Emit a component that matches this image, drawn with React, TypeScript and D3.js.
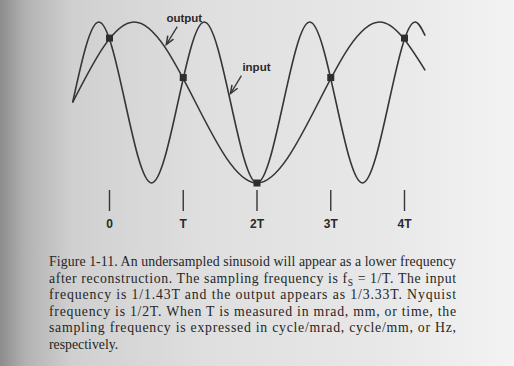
import React from "react";
import * as d3 from "d3";

// Sample instants (in units of T) and the sampled value (shared by both curves)
const sampleT = [0, 1, 2, 3, 4];
const sampleV = [0.8, 0.31, -1, 0.31, 0.8];
const tickLabels = ["0", "T", "2T", "3T", "4T"];

// Input sinusoid (period 1.43T): key points (t, value)
const inputT = [-0.5, -0.145, 0.57, 1.285, 2.0, 2.715, 3.43, 4.145, 4.28];
const inputV = [0, 1, -1, 1, -1, 1, -1, 1, 0.83];

// Output (alias) sinusoid (period 3.33T)
const outputT = [-0.5, 0.335, 2.0, 3.665, 4.28];
const outputV = [0, 1, -1, 1, 0.4];

// Annotations: label, t of arrow tip, value of tip, label offset
const annLabels = ["output", "input"];
const annTipT = [0.77, 1.64];
const annTipV = [0.72, 0.11];
const annDx = [7, 15];

const captionLines = [
  "Figure 1-11. An undersampled sinusoid will appear as a lower frequency",
  "after reconstruction. The sampling frequency is f|S| = 1/T. The input",
  "frequency is 1/1.43T and the output appears as 1/3.33T. Nyquist",
  "frequency is 1/2T. When T is measured in mrad, mm, or time, the",
  "sampling frequency is expressed in cycle/mrad, cycle/mm, or Hz,",
  "respectively.",
];

const W = 514;
const H = 366;

export default function App() {
  const x = d3.scaleLinear().domain([0, 4]).range([109.5, 404.5]);
  const y = d3.scaleLinear().domain([-1, 1]).range([183, 22]);
  const line = d3
    .line<[number, number]>()
    .x((d) => x(d[0]))
    .y((d) => y(d[1]))
    .curve(d3.curveMonotoneX);
  const inputPts = inputT.map((t, i) => [t, inputV[i]] as [number, number]);
  const outputPts = outputT.map((t, i) => [t, outputV[i]] as [number, number]);
  const ink = "#363636";
  const sq = 7;

  const arrow = (i: number) => {
    const tx = x(annTipT[i]);
    const ty = y(annTipV[i]);
    const sx = tx + 11;
    const sy = ty - 18;
    const ang = Math.atan2(ty - sy, tx - sx);
    const hl = 9;
    const a1 = ang + Math.PI - 0.38;
    const a2 = ang + Math.PI + 0.38;
    const p1 = [tx + hl * Math.cos(a1), ty + hl * Math.sin(a1)];
    const p2 = [tx + hl * Math.cos(a2), ty + hl * Math.sin(a2)];
    return (
      <g key={"a" + i}>
        <line x1={sx} y1={sy} x2={tx} y2={ty} stroke={ink} strokeWidth={1.3} />
        <path
          d={`M${p1[0]},${p1[1]} L${tx},${ty} L${p2[0]},${p2[1]}`}
          fill="none"
          stroke={ink}
          strokeWidth={1.5}
        />
        <text
          x={sx + annDx[i]}
          y={sy - 4.5}
          textAnchor="middle"
          fontFamily="Liberation Sans, Arial, sans-serif"
          fontWeight="bold"
          fontSize={11.5}
          fill="#2a2a2a"
        >
          {annLabels[i]}
        </text>
      </g>
    );
  };

  return (
    <svg
      width={W}
      height={H}
      style={{ position: "absolute", left: 0, top: 0, display: "block" }}
    >
      <defs>
        <linearGradient id="paper" x1="0" x2="1" y1="0" y2="0">
          <stop offset="0" stopColor="#8c8c8c" />
          <stop offset="0.05" stopColor="#b2b2b2" />
          <stop offset="0.14" stopColor="#d0d0d0" />
          <stop offset="0.4" stopColor="#dfdfdf" />
          <stop offset="0.75" stopColor="#e8e8e8" />
          <stop offset="1" stopColor="#f3f3f3" />
        </linearGradient>
      </defs>
      <rect width={W} height={H} fill="url(#paper)" />

      <path d={line(outputPts) || ""} fill="none" stroke={ink} strokeWidth={1.6} />
      <path d={line(inputPts) || ""} fill="none" stroke={ink} strokeWidth={1.6} />

      {sampleT.map((t, i) => (
        <rect
          key={"s" + i}
          x={x(t) - sq / 2}
          y={y(sampleV[i]) - sq / 2}
          width={sq}
          height={sq}
          fill="#2e2e2e"
        />
      ))}

      {sampleT.map((t, i) => (
        <g key={"t" + i}>
          <line x1={x(t)} x2={x(t)} y1={190} y2={211} stroke={ink} strokeWidth={1.4} />
          <text
            x={x(t)}
            y={228}
            textAnchor="middle"
            fontFamily="Liberation Sans, Arial, sans-serif"
            fontWeight="bold"
            fontSize={12}
            fill="#2a2a2a"
          >
            {tickLabels[i]}
          </text>
        </g>
      ))}

      {annLabels.map((_, i) => arrow(i))}

      {captionLines.map((ln, i) => {
        const parts = ln.split("|");
        const justify = i < captionLines.length - 1;
        return (
          <text
            key={"c" + i}
            x={49}
            y={266 + i * 16.6}
            fontFamily="Liberation Serif, Times New Roman, serif"
            fontSize={13.8}
            fill="#262626"
            textLength={justify ? 407 : undefined}
            lengthAdjust={justify ? "spacing" : undefined}
          >
            {parts.length === 1 ? (
              ln
            ) : (
              <>
                <tspan>{parts[0]}</tspan>
                <tspan fontSize={9.5} dy={3}>
                  {parts[1]}
                </tspan>
                <tspan dy={-3}>{parts[2]}</tspan>
              </>
            )}
          </text>
        );
      })}
    </svg>
  );
}
